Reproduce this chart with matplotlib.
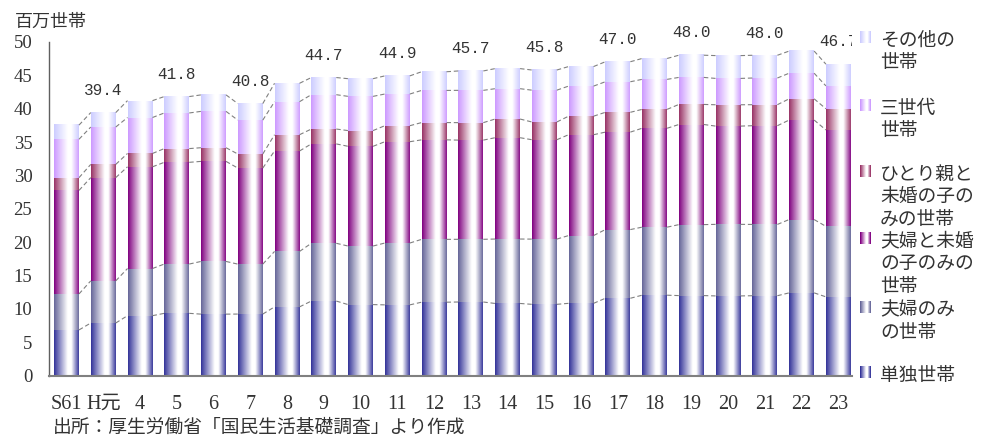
import numpy as np
import matplotlib
matplotlib.use("Agg")
import matplotlib.pyplot as plt
from matplotlib.colors import to_rgb
from matplotlib.transforms import Bbox, TransformedBbox

plt.rcParams['font.family'] = ['Liberation Serif', 'Noto Sans CJK JP']

# 世帯構造別の世帯数（百万世帯）
years = ["S61", "H元", "4", "5", "6", "7", "8", "9", "10", "11", "12",
         "13", "14", "15", "16", "17", "18", "19", "20", "21", "22", "23"]
single = [6.83, 7.87, 8.97, 9.32, 9.20, 9.21, 10.29, 11.16, 10.63, 10.59, 10.99,
          11.02, 10.80, 10.67, 10.82, 11.58, 12.04, 11.98, 11.93, 11.96, 12.39, 11.79]
couple = [5.40, 6.32, 7.07, 7.39, 7.90, 7.49, 8.31, 8.66, 8.78, 9.27, 9.42,
          9.40, 9.66, 9.78, 10.16, 10.30, 10.20, 10.64, 10.73, 10.69, 10.99, 10.57]
couple_child = [15.52, 15.48, 15.25, 15.25, 15.00, 14.40, 15.06, 14.90, 14.95, 15.19, 14.92,
                14.87, 15.19, 14.90, 15.12, 14.61, 14.83, 15.01, 14.73, 14.80, 14.92, 14.45]
single_parent = [1.91, 1.98, 2.00, 2.06, 2.05, 2.11, 2.44, 2.23, 2.36, 2.40, 2.59,
                 2.62, 2.80, 2.66, 2.78, 2.97, 2.83, 3.01, 3.20, 3.15, 3.18, 3.18]
three_gen = [5.76, 5.60, 5.39, 5.34, 5.45, 5.08, 4.95, 5.15, 5.13, 4.75, 4.82,
             4.84, 4.55, 4.77, 4.51, 4.58, 4.50, 4.05, 3.95, 4.00, 3.84, 3.43]
other = [2.12, 2.17, 2.53, 2.46, 2.47, 2.48, 2.76, 2.57, 2.65, 2.72, 2.80,
         2.91, 3.01, 3.02, 2.93, 3.00, 3.13, 3.33, 3.42, 3.41, 3.32, 3.26]

series = [single, couple, couple_child, single_parent, three_gen, other]
colors = ["#333399", "#666699", "#800080", "#993366", "#CC99FF", "#CCCCFF"]

legend_lines = [["その他の", "世帯"], ["三世代", "世帯"], ["ひとり親と", "未婚の子の", "みの世帯"],
                ["夫婦と未婚", "の子のみの", "世帯"], ["夫婦のみ", "の世帯"], ["単独世帯"]]
legend_colors = colors[::-1]
text_color = "#333333"


def gradient(color, n=64):
    # colour at the edges, white band a little right of centre
    c = np.array(to_rgb(color))
    t = np.linspace(0, 1, n)
    w = np.interp(t, [0, 0.06, 0.55, 0.7, 1.0], [0, 0.12, 1, 1, 0.05])
    row = c[None, :] * (1 - w[:, None]) + w[:, None]
    return row[None, :, :]


W, H = 988, 436
fig = plt.figure(figsize=(W / 100, H / 100), dpi=100)
ax = fig.add_axes([49 / W, 1 - 375.5 / H, 803 / W, 333.5 / H])
xmin, xmax = -0.476, 21.37

x = np.arange(len(years))
width = 0.68
bottom = np.zeros(len(years))
for vals, col in zip(series, colors):
    vals = np.array(vals)
    bars = ax.bar(x, vals, width=width, bottom=bottom, color='none', linewidth=0)
    img = gradient(col)
    for b in bars:
        x0, y0 = b.get_xy()
        ax.imshow(img, extent=[x0, x0 + b.get_width(), y0, y0 + b.get_height()],
                  aspect='auto', interpolation='bilinear', zorder=2)
    bottom = bottom + vals
    # 系列線
    for i in range(len(x) - 1):
        ax.plot([x[i] + width / 2, x[i + 1] - width / 2], [bottom[i], bottom[i + 1]],
                ls=(0, (4, 2.5)), color='#808080', lw=0.8, zorder=3)

# 合計ラベル（右端は凡例側で切れる）
total = bottom
label_clip = TransformedBbox(Bbox.from_extents(xmin - 1, 0, xmax, 70), ax.transData)
for i in range(1, len(x), 2):
    t = ax.annotate(f"{total[i]:.1f}", (x[i], total[i]), xytext=(0, 16),
                    textcoords='offset points', ha='center', va='center',
                    family='Liberation Mono', fontsize=11.5, color=text_color)
    t.set_clip_on(True)
    t.set_clip_box(label_clip)

ax.set_xlim(xmin, xmax)
ax.set_ylim(0, 50)
ax.set_yticks(range(0, 51, 5))
ax.set_xticks(x, years)
ax.tick_params(axis='y', length=0, pad=12, labelsize=13.5, labelcolor=text_color)
ax.tick_params(axis='x', length=0, pad=14, labelsize=14.5, labelcolor=text_color)
for s in ['top', 'right']:
    ax.spines[s].set_visible(False)
ax.spines['left'].set_color('#606060')
ax.spines['left'].set_linewidth(1.0)
ax.spines['bottom'].set_color('#808080')
ax.spines['bottom'].set_linewidth(1.5)

fig.text(15 / W, 1 - 21.7 / H, "百万世帯", family='Noto Sans CJK JP', fontsize=13,
         color=text_color, va='center')
fig.text(53 / W, 1 - 426.7 / H, "出所：厚生労働省「国民生活基礎調査」より作成",
         family='Noto Sans CJK JP', fontsize=13.5, color=text_color, va='center')

# 凡例
first_line = [40, 108, 174, 241, 310, 375]
for lines, col, y0 in zip(legend_lines, legend_colors, first_line):
    for k, s in enumerate(lines):
        fig.text(880 / W, 1 - (y0 + 22.7 * k) / H, s, family='Noto Sans CJK JP',
                 fontsize=13.5, color=text_color, va='center')
    patch = np.repeat(gradient(col, n=11), 12, axis=0)
    fig.figimage(patch, xo=860, yo=H - (y0 - 3 + 6), zorder=5)

fig.savefig("out.png", dpi=100)
